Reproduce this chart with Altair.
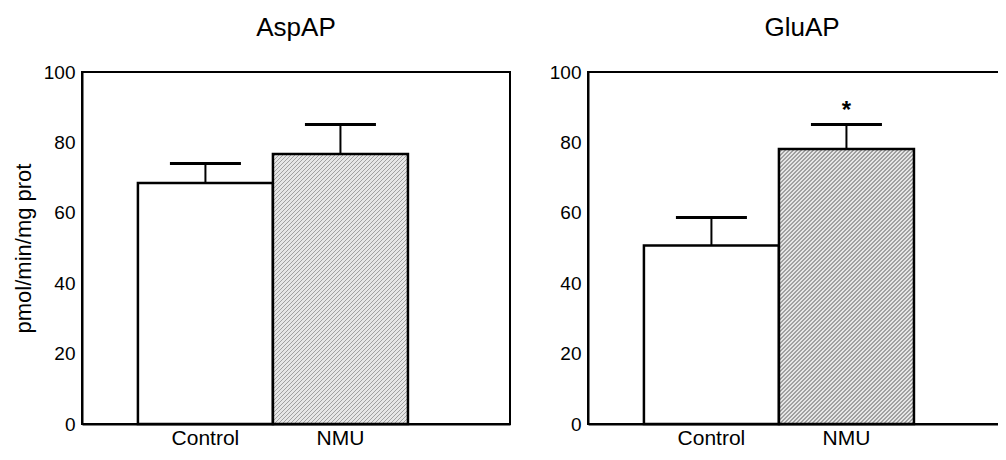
import altair as alt
import pandas as pd

# ---- data ----
groups = ["Control", "NMU"]
panels = ["AspAP", "GluAP"]
asp_mean = [68.5, 76.7]
asp_sem = [5.5, 8.4]
glu_mean = [50.7, 78.1]
glu_sem = [8.0, 7.0]
glu_star = ["", "*"]
asp_star = ["", ""]
y_ticks = [0, 20, 40, 60, 80, 100]
y_title = "pmol/min/mg prot"

FONT = "Liberation Sans"
W, H = 428, 352
BAR_W = W / 3.17          # band step in pixels (2 bands + outer padding)
PX_PER_UNIT = H / 100.0

def make_df(means, sems, stars):
    return pd.DataFrame({
        "group": groups,
        "mean": means,
        "upper": [m + s for m, s in zip(means, sems)],
        "star": stars,
    })

def make_hatch(value):
    """Striped gradient imitating a 45-degree '/' hatch with a 4px horizontal period."""
    bh = value * PX_PER_UNIT
    k = bh / BAR_W
    f = 4.0 / (BAR_W + bh * k)
    light, dark = "#e6e6e6", "#a0a0a0"
    stops = []
    o = 0.0
    while o < 1.0:
        a = o + 0.62 * f
        b = min(o + f, 1.0)
        stops.append(alt.GradientStop(offset=o, color=light))
        stops.append(alt.GradientStop(offset=min(a, 1.0), color=light))
        if a < 1.0:
            stops.append(alt.GradientStop(offset=a, color=dark))
            stops.append(alt.GradientStop(offset=b, color=dark))
        o += f
    return alt.LinearGradient(gradient="linear", x1=0, y1=0, x2=1, y2=k, stops=stops)

def panel(df, title, show_title, nmu_value):
    x = alt.X("group:N", sort=groups,
              scale=alt.Scale(domain=groups, paddingInner=0, paddingOuter=0.585, align=0.354),
              axis=alt.Axis(title=None, labelAngle=0, ticks=False, labelFontSize=21,
                            labelFont=FONT, labelColor="black", labelPadding=3,
                            domainColor="black", domainWidth=2))
    y = alt.Y("mean:Q", scale=alt.Scale(domain=[0, 100], nice=False),
              axis=alt.Axis(values=y_ticks, title=y_title if show_title else None,
                            grid=False, ticks=False, labelFontSize=19, labelFont=FONT,
                            labelColor="black", labelPadding=7, domainColor="black",
                            domainWidth=2, titleFont=FONT, titleFontSize=22,
                            titleFontWeight="normal", titleColor="black", titlePadding=8))
    base = alt.Chart(df)
    stem = base.mark_rule(color="black", strokeWidth=2).encode(
        x=x, y=y, y2="upper:Q")
    cap = base.mark_tick(color="black", thickness=3, size=71, opacity=1).encode(
        x=x, y=alt.Y("upper:Q"))
    ctrl = base.transform_filter(alt.datum.group == "Control").mark_bar(
        fill="white", stroke="black", strokeWidth=2.5).encode(x=x, y=y)
    nmu = base.transform_filter(alt.datum.group == "NMU").mark_bar(
        fill=make_hatch(nmu_value), stroke="black", strokeWidth=2.5).encode(x=x, y=y)
    star = base.mark_text(font=FONT, fontSize=24, fontWeight="bold", color="black",
                          baseline="alphabetic", dy=-6).encode(
        x=x, y=alt.Y("upper:Q"), text="star:N")
    return alt.layer(stem, cap, ctrl, nmu, star).properties(
        width=W, height=H,
        title=alt.TitleParams(title, fontSize=26, font=FONT, fontWeight="normal",
                              color="black", baseline="alphabetic", offset=1))

left = panel(make_df(asp_mean, asp_sem, asp_star), panels[0], True, asp_mean[1])
right = panel(make_df(glu_mean, glu_sem, glu_star), panels[1], False, glu_mean[1])

chart = alt.hconcat(
    left, right, spacing=37, background="white",
    padding={"left": 3, "top": 6, "right": -19, "bottom": 0},
).configure_view(stroke="black", strokeWidth=2)

chart.save("out.html", embed_options={"renderer": "svg", "actions": False})
